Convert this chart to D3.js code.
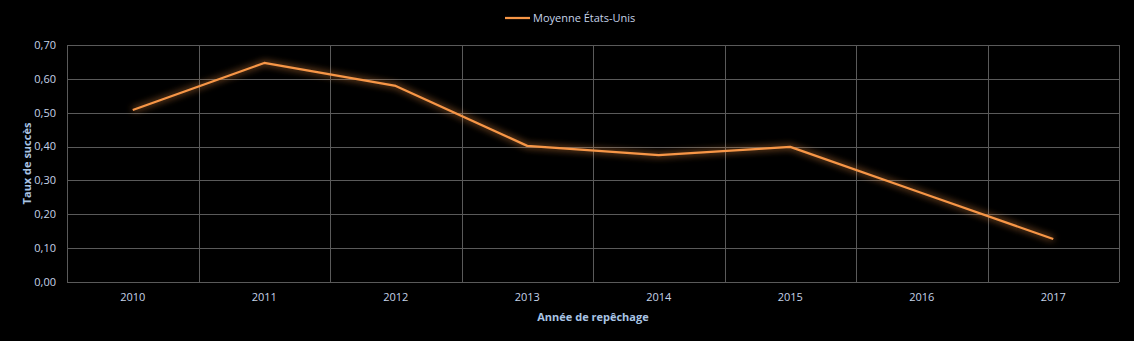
<!DOCTYPE html>
<html lang="fr">
  <head>
    <meta charset="utf-8" />
    <title>Taux de succès</title>
    <style>
      body {
        margin: 0;
        background: #000;
      }
      text {
        font-family: "Open Sans", "Noto Sans", sans-serif;
        fill: #c5d3e8;
      }
    </style>
    <script src="https://d3js.org/d3.v7.min.js"></script>
  </head>
  <body>
    <svg width="1134" height="341"></svg>
    <script>
      // data
      var years = ["2010", "2011", "2012", "2013", "2014", "2015", "2016", "2017"];
      var moyenne = [0.508, 0.647, 0.579, 0.402, 0.375, 0.399, 0.263, 0.127];
      var yTicks = [0, 0.1, 0.2, 0.3, 0.4, 0.5, 0.6, 0.7];
      var seriesName = "Moyenne États-Unis";

      var svg = d3.select("svg"),
        width = +svg.attr("width"),
        height = +svg.attr("height");

      var margin = { top: 45, right: 15, bottom: 59, left: 67 };
      var plotW = width - margin.left - margin.right,
        plotH = height - margin.top - margin.bottom;

      svg.append("rect").attr("width", width).attr("height", height).attr("fill", "#000");

      // glow filter for the line
      var defs = svg.append("defs");
      var glow = defs.append("filter").attr("id", "glow")
        .attr("x", "-10%").attr("y", "-30%").attr("width", "120%").attr("height", "160%");
      glow.append("feGaussianBlur").attr("in", "SourceGraphic").attr("stdDeviation", 3.5).attr("result", "blur");
      var merge = glow.append("feMerge");
      merge.append("feMergeNode").attr("in", "blur");
      merge.append("feMergeNode").attr("in", "SourceGraphic");

      var g = svg.append("g").attr("transform", "translate(" + margin.left + "," + margin.top + ")");

      var x = d3.scaleBand().domain(years).range([0, plotW]);
      var y = d3.scaleLinear().domain([0, 0.7]).range([plotH, 0]);
      var fmt = (d) => d3.format(".2f")(d).replace(".", ",");

      // horizontal grid
      g.selectAll(".hgrid")
        .data(yTicks)
        .enter()
        .append("line")
        .attr("x1", 0)
        .attr("x2", plotW)
        .attr("y1", (d) => Math.round(y(d)) + 0.5)
        .attr("y2", (d) => Math.round(y(d)) + 0.5)
        .attr("stroke", "#5a5a5a")
        .attr("stroke-width", 1);

      // vertical grid at category boundaries
      var bounds = years.map((d) => x(d)).concat([plotW]);
      g.selectAll(".vgrid")
        .data(bounds)
        .enter()
        .append("line")
        .attr("x1", (d) => Math.round(d) + 0.5)
        .attr("x2", (d) => Math.round(d) + 0.5)
        .attr("y1", 0)
        .attr("y2", plotH)
        .attr("stroke", "#5a5a5a")
        .attr("stroke-width", 1);

      // y tick labels
      g.selectAll(".ylab")
        .data(yTicks)
        .enter()
        .append("text")
        .attr("x", -11)
        .attr("y", (d) => y(d))
        .attr("dy", "0.35em")
        .attr("text-anchor", "end")
        .attr("font-size", 11)
        .text(fmt);

      // x tick labels
      g.selectAll(".xlab")
        .data(years)
        .enter()
        .append("text")
        .attr("x", (d) => x(d) + x.bandwidth() / 2)
        .attr("y", plotH + 15)
        .attr("dy", "0.35em")
        .attr("text-anchor", "middle")
        .attr("font-size", 11)
        .text((d) => d);

      // line
      var line = d3.line()
        .x((d, i) => x(years[i]) + x.bandwidth() / 2)
        .y((d) => y(d));

      g.append("path")
        .datum(moyenne)
        .attr("d", line)
        .attr("fill", "none")
        .attr("stroke", "#f79646")
        .attr("stroke-width", 2.25)
        .attr("stroke-linejoin", "round")
        .attr("filter", "url(#glow)");

      // axis titles
      svg.append("text")
        .attr("x", margin.left + plotW / 2)
        .attr("y", 317)
        .attr("dy", "0.35em")
        .attr("text-anchor", "middle")
        .attr("font-size", 11)
        .attr("font-weight", "bold")
        .style("fill", "#a9c4e4")
        .text("Année de repêchage");

      svg.append("text")
        .attr("transform", "translate(27," + (margin.top + plotH / 2) + ") rotate(-90)")
        .attr("dy", "0.35em")
        .attr("text-anchor", "middle")
        .attr("font-size", 11)
        .attr("font-weight", "bold")
        .style("fill", "#a9c4e4")
        .text("Taux de succès");

      // legend
      var lg = svg.append("g").attr("transform", "translate(505,18)");
      lg.append("line").attr("x1", 0).attr("x2", 25).attr("y1", 0).attr("y2", 0)
        .attr("stroke", "#f79646").attr("stroke-width", 2.25);
      lg.append("text").attr("x", 28).attr("dy", "0.35em").attr("font-size", 11).text(seriesName);
    </script>
  </body>
</html>
